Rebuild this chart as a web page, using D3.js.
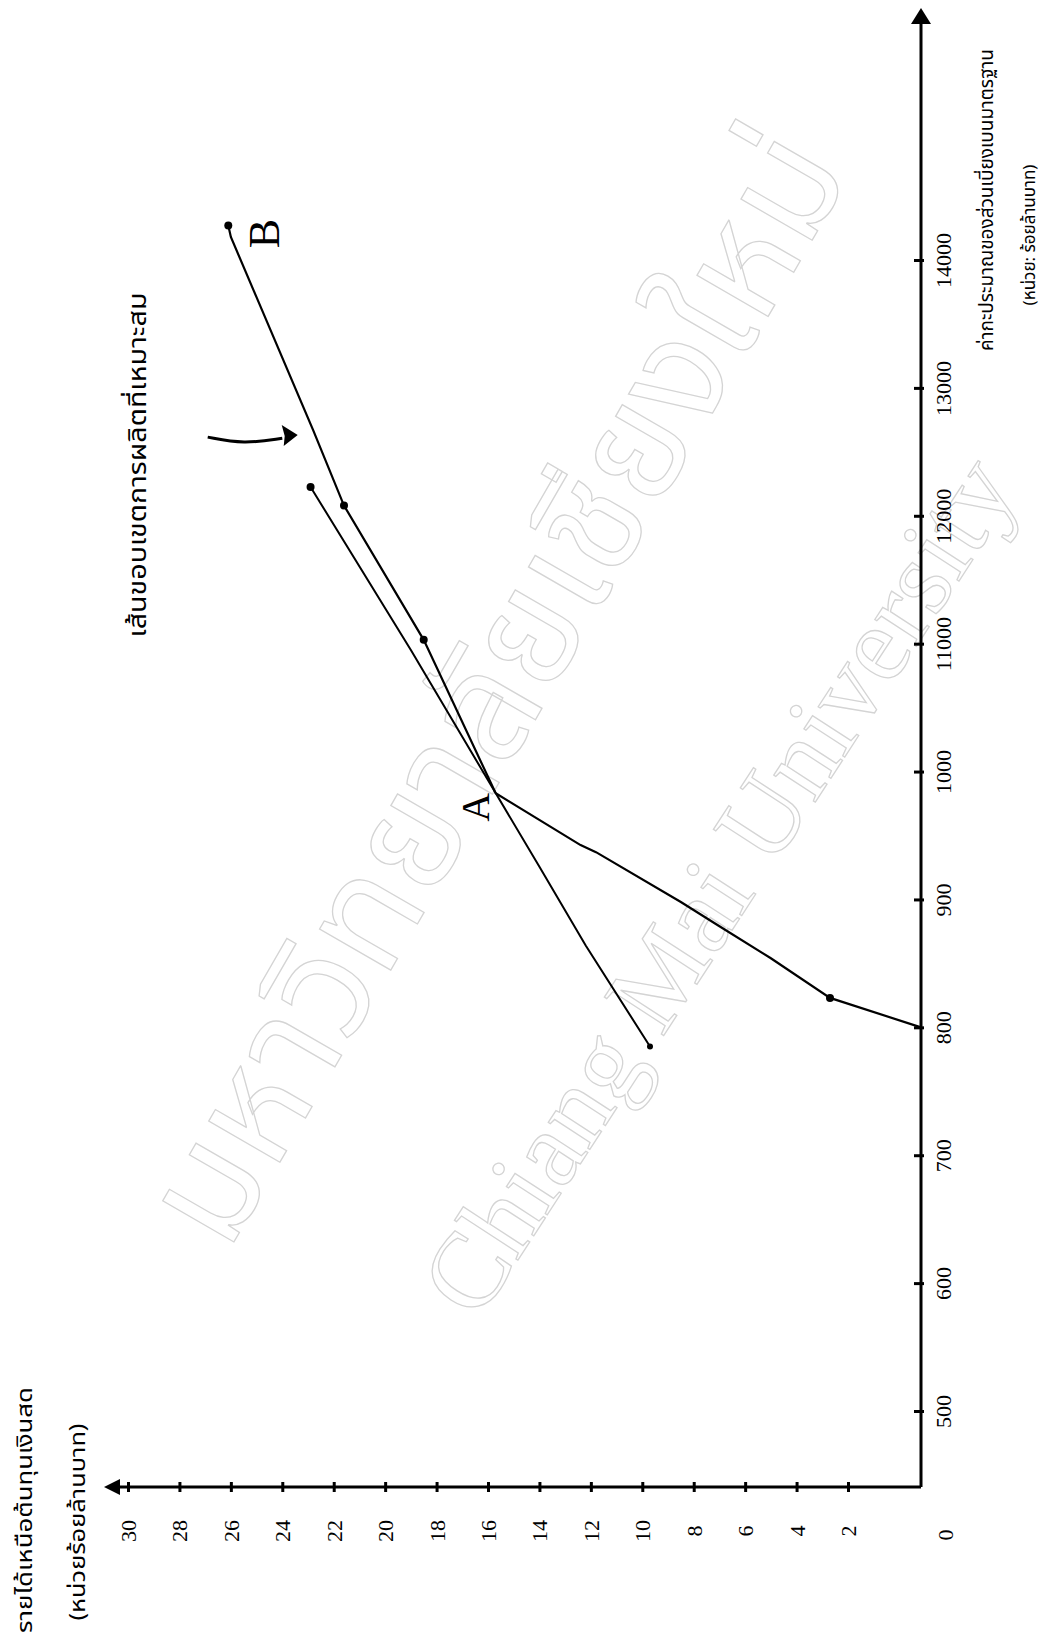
<!DOCTYPE html>
<html>
<head>
<meta charset="utf-8">
<script src="https://cdn.jsdelivr.net/npm/d3@7"></script>
<style>
  body { margin: 0; background: #fff; }
  svg { display: block; }
  .thai { font-family: "Noto Sans Thai", "Noto Serif Thai", "Sarabun", "Loma", "Garuda", "Norasi", "Tlwg Typo", sans-serif; }
  .num { font-family: "Liberation Serif", "DejaVu Serif", serif; }
</style>
</head>
<body>
<svg id="chart" width="1052" height="1641"></svg>
<script>
// income over cash cost (runs along the bottom of the page)
const incomeTicks = [2, 4, 6, 8, 10, 12, 14, 16, 18, 20, 22, 24, 26, 28, 30];
const incomeLabels = ["2", "4", "6", "8", "10", "12", "14", "16", "18", "20", "22", "24", "26", "28", "30"];
// estimated standard deviation (runs up the right side)
const sdTicks = [5000, 6000, 7000, 8000, 9000, 10000, 11000, 12000, 13000, 14000];
const sdLabels = ["500", "600", "700", "800", "900", "1000", "11000", "12000", "13000", "14000"];

// frontier curve, starts on the axis, bends at A and runs up to B
const frontierIncome = [0, 2.7, 5.0, 7.0, 8.5, 11.8, 12.4, 15.7, 18.5, 21.6, 22.8, 26.0, 26.1];
const frontierSd = [8000, 8230, 8540, 8790, 8980, 9370, 9425, 9830, 11030, 12080, 12670, 14180, 14270];
const frontierDots = [1, 8, 9, 12];

// the straight line that crosses the frontier at A
const lineIncome = [9.7, 12.2, 14.0, 19.0, 22.9];
const lineSd = [7850, 8640, 9255, 10950, 12225];
const lineDots = [0, 4];

// little curved arrow pointing at the frontier
const arrowIncome = [26.9, 25.5, 24.0];
const arrowSd = [12615, 12560, 12607];
const arrowTip = [23.4, 12631];

const svg = d3.select('#chart');

const xInc = d3.scaleLinear().domain([0, 2, 30]).range([921, 848, 128]);
const ySd = d3.scaleLinear().domain([0, 5000, 14000]).range([1487, 1411, 260]);

const axisX = xInc(0);
const axisY = ySd(0);

//watermark
const wm = svg.append('g').attr('fill', 'none').attr('stroke', '#d4d4d4').attr('stroke-width', 1.3);
wm.append('text').attr('class', 'thai')
  .attr('transform', 'translate(500,690) rotate(-60)')
  .attr('text-anchor', 'middle').attr('dominant-baseline', 'central')
  .style('font-size', '150px')
  .text('มหาวิทยาลัยเชียงใหม่');
wm.append('text')
  .attr('transform', 'translate(718,885) rotate(-57)')
  .attr('text-anchor', 'middle').attr('dominant-baseline', 'central')
  .style('font-family', '"Liberation Serif", serif')
  .style('font-size', '108px')
  .text('Chiang Mai University');

// income axis
const gx = svg.append('g')
  .attr('transform', `translate(0,${axisY})`)
  .call(d3.axisBottom(xInc).tickValues(incomeTicks).tickFormat((d, i) => incomeLabels[i]).tickSize(5));
gx.select('.domain').remove();
gx.selectAll('.tick line').attr('y1', -5).attr('y2', 5).attr('stroke', '#000').attr('stroke-width', 3);
gx.selectAll('.tick text')
  .attr('class', 'num')
  .attr('y', null).attr('dy', null)
  .attr('transform', 'translate(0,44) rotate(-90)')
  .attr('text-anchor', 'middle')
  .attr('dominant-baseline', 'central')
  .style('font-size', '22px');

// sd axis
const gy = svg.append('g')
  .attr('transform', `translate(${axisX},0)`)
  .call(d3.axisRight(ySd).tickValues(sdTicks).tickFormat((d, i) => sdLabels[i]).tickSize(5));
gy.select('.domain').remove();
gy.selectAll('.tick line').attr('x1', -7).attr('x2', 3).attr('stroke', '#000').attr('stroke-width', 3);
gy.selectAll('.tick text')
  .attr('class', 'num')
  .attr('x', null).attr('dy', null)
  .attr('transform', 'translate(22,0) rotate(-90)')
  .attr('text-anchor', 'middle')
  .attr('dominant-baseline', 'central')
  .style('font-size', '22px');

// axis lines + arrow heads
svg.append('line')
  .attr('x1', axisX).attr('y1', axisY).attr('x2', xInc(30) - 12).attr('y2', axisY)
  .attr('stroke', '#000').attr('stroke-width', 3);
svg.append('path')
  .attr('d', `M${xInc(30) - 24},${axisY} L${xInc(30) - 8},${axisY - 8} L${xInc(30) - 8},${axisY + 8} Z`)
  .attr('fill', '#000');
svg.append('line')
  .attr('x1', axisX).attr('y1', axisY).attr('x2', axisX).attr('y2', 20)
  .attr('stroke', '#000').attr('stroke-width', 3);
svg.append('path')
  .attr('d', `M${axisX},8 L${axisX - 10},24 L${axisX + 10},24 Z`)
  .attr('fill', '#000');

// corner zero
svg.append('text').attr('class', 'num')
  .attr('transform', `translate(${axisX + 24},${axisY + 48}) rotate(-90)`)
  .attr('text-anchor', 'middle').attr('dominant-baseline', 'central')
  .style('font-size', '22px')
  .text('0');

// lines
const line = d3.line().x(d => xInc(d[0])).y(d => ySd(d[1]));
const frontier = frontierIncome.map((v, i) => [v, frontierSd[i]]);
const straight = lineIncome.map((v, i) => [v, lineSd[i]]);

svg.append('path').datum(straight)
  .attr('d', line).attr('fill', 'none').attr('stroke', '#000').attr('stroke-width', 2);
svg.append('path').datum(frontier)
  .attr('d', line).attr('fill', 'none').attr('stroke', '#000').attr('stroke-width', 2.2);

svg.selectAll('.fdot').data(frontierDots.map(i => frontier[i])).enter()
  .append('circle').attr('class', 'fdot')
  .attr('cx', d => xInc(d[0])).attr('cy', d => ySd(d[1])).attr('r', 4).attr('fill', '#000');
svg.selectAll('.ldot').data(lineDots.map(i => straight[i])).enter()
  .append('circle').attr('class', 'ldot')
  .attr('cx', d => xInc(d[0])).attr('cy', d => ySd(d[1])).attr('r', d => d === straight[0] ? 3 : 4).attr('fill', '#000');

// A and B
const ptA = frontier[7], ptB = frontier[12];
svg.append('text').attr('class', 'num')
  .attr('transform', `translate(${xInc(ptA[0]) - 20},${ySd(ptA[1]) + 14}) rotate(-90)`)
  .attr('text-anchor', 'middle').attr('dominant-baseline', 'central')
  .style('font-size', '40px')
  .text('A');
svg.append('text').attr('class', 'num')
  .attr('transform', `translate(${xInc(ptB[0]) + 36},${ySd(ptB[1]) + 8}) rotate(-90)`)
  .attr('text-anchor', 'middle').attr('dominant-baseline', 'central')
  .style('font-size', '44px')
  .text('B');

// arrow to the frontier
const arrowPts = arrowIncome.map((v, i) => [xInc(v), ySd(arrowSd[i])]);
svg.append('path')
  .attr('d', d3.line().curve(d3.curveBasis)(arrowPts))
  .attr('fill', 'none').attr('stroke', '#000').attr('stroke-width', 3);
const tx = xInc(arrowTip[0]), ty = ySd(arrowTip[1]);
svg.append('path')
  .attr('d', `M${tx},${ty} L${tx - 16},${ty - 10} L${tx - 13},${ty + 1} L${tx - 14},${ty + 11} Z`)
  .attr('fill', '#000');

// titles (page is turned, so all text runs upward)
function upText(x, y, size, str, len) {
  const t = svg.append('text').attr('class', 'thai')
    .attr('transform', `translate(${x},${y}) rotate(-90)`)
    .attr('text-anchor', 'middle').attr('dominant-baseline', 'central')
    .style('font-size', size + 'px')
    .text(str);
  if (len) t.attr('textLength', len).attr('lengthAdjust', 'spacingAndGlyphs');
}
upText(25, 1510, 22, 'รายได้เหนือต้นทุนเงินสด', 246);
upText(78, 1522, 21, '(หน่วยร้อยล้านบาท)', 197);
upText(138, 465, 25, 'เส้นขอบเขตการผลิตที่เหมาะสม', 345);
upText(987, 200, 19, 'ค่ากะประมาณของส่วนเบี่ยงเบนมาตรฐาน');
upText(1030, 235, 17, '(หน่วย: ร้อยล้านบาท)');
</script>
</body>
</html>
